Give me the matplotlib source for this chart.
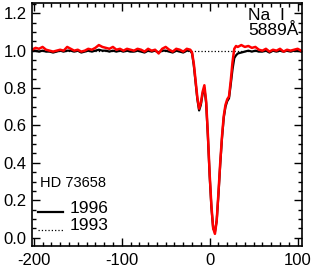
import numpy as np
import matplotlib
matplotlib.use('Agg')
import matplotlib.pyplot as plt
from matplotlib.ticker import MultipleLocator

plt.rcParams['font.family'] = ['Liberation Sans', 'DejaVu Sans']
plt.rcParams['axes.unicode_minus'] = False

# velocity grid (km/s)
v_cont1 = [-202, -198, -194, -190, -186, -182, -178, -174, -170, -166,
           -162, -158, -154, -150, -146, -142, -138, -134, -130, -126,
           -122, -118, -114, -110, -106, -102, -98, -94, -90, -86,
           -82, -78, -74, -70, -66, -62, -58, -54, -50, -46,
           -42, -38, -34, -30, -26, -22]
v_line = [-20, -18, -16, -14, -12, -10, -8, -6, -4, -2, 0, 2, 4, 6, 8,
          10, 12, 14, 16, 18, 20, 22, 24, 26, 28, 30, 32]
v_cont2 = [36, 40, 44, 48, 52, 56, 60, 64, 68, 72, 76, 80, 84, 88, 92,
           96, 100, 104]

# red spectrum
red_cont1 = [1.005, 1.015, 1.01, 1.02, 1.005, 1.0, 0.995, 1.0, 1.005, 1.0,
             1.02, 1.01, 1.0, 1.005, 0.995, 1.0, 1.01, 1.005, 1.015, 1.03,
             1.02, 1.015, 1.01, 1.02, 1.005, 1.01, 1.0, 1.01, 1.005, 1.0,
             1.01, 1.005, 0.995, 1.01, 1.0, 1.005, 0.985, 1.01, 1.02, 1.005,
             0.995, 1.01, 1.005, 0.995, 1.01, 1.005]
red_line = [0.99, 0.93, 0.84, 0.75, 0.69, 0.72, 0.78, 0.815, 0.73, 0.55,
            0.34, 0.17, 0.05, 0.02, 0.09, 0.24, 0.40, 0.54, 0.65, 0.71,
            0.74, 0.755, 0.84, 0.94, 1.01, 1.025, 1.02]
red_cont2 = [1.03, 1.02, 1.025, 1.015, 1.02, 1.005, 1.0, 1.01, 0.995, 1.005,
             1.0, 1.01, 0.995, 1.005, 1.0, 1.005, 1.01, 1.0]

# 1996 spectrum (black)
blk_cont1 = [1.0, 1.0, 0.995, 1.0, 0.995, 0.995, 0.99, 0.995, 1.0, 0.995,
             1.0, 1.0, 0.995, 1.0, 0.99, 0.995, 1.0, 0.995, 1.0, 1.005,
             1.0, 1.0, 0.995, 1.0, 0.995, 1.0, 0.995, 1.0, 0.995, 0.995,
             1.0, 0.995, 0.99, 1.0, 0.995, 1.0, 0.99, 1.0, 1.0, 0.995,
             0.99, 1.0, 0.995, 0.99, 1.0, 1.0]
blk_line = [0.985, 0.92, 0.83, 0.74, 0.68, 0.71, 0.77, 0.80, 0.72, 0.54,
            0.33, 0.16, 0.05, 0.03, 0.09, 0.23, 0.39, 0.53, 0.64, 0.70,
            0.73, 0.745, 0.82, 0.90, 0.96, 0.975, 0.985]
blk_cont2 = [0.99, 0.995, 1.0, 0.995, 1.0, 0.995, 0.995, 1.0, 0.99, 1.0,
             0.995, 1.0, 0.995, 1.0, 0.995, 1.0, 1.0, 0.995]

vel = np.array(v_cont1 + v_line + v_cont2)
flux_red = np.array(red_cont1 + red_line + red_cont2)
flux_1996 = np.array(blk_cont1 + blk_line + blk_cont2)

fig = plt.figure(figsize=(3.11, 2.73), dpi=100)
ax = fig.add_axes([32 / 311, 27 / 273, 270 / 311, 243 / 273])

ax.axhline(1.0, color='black', linestyle=':', linewidth=0.9)
ax.plot(vel, flux_1996, color='black', linewidth=1.6)
ax.plot(vel, flux_red, color='red', linewidth=1.8)

ax.set_xlim(-202, 105)
ax.set_ylim(-0.045, 1.255)
ax.set_xticks([-200, -100, 0, 100])
ax.set_yticks([0.0, 0.2, 0.4, 0.6, 0.8, 1.0, 1.2])
ax.xaxis.set_minor_locator(MultipleLocator(10))
ax.yaxis.set_minor_locator(MultipleLocator(0.05))
ax.tick_params(which='both', direction='in', top=True, right=True,
               width=1.0, labelsize=12)
ax.tick_params(which='major', length=6)
ax.tick_params(which='minor', length=3)
ax.tick_params(axis='x', pad=5)
ax.tick_params(axis='y', pad=4)
for s in ax.spines.values():
    s.set_linewidth(1.2)

ax.text(0.80, 0.978, 'Na  I', transform=ax.transAxes, fontsize=12.5,
        va='top', ha='left')
ax.text(0.80, 0.918, '5889Å', transform=ax.transAxes, fontsize=12.5,
        va='top', ha='left')
ax.text(0.03, 0.259, 'HD 73658', transform=ax.transAxes, fontsize=10.5,
        va='center', ha='left')

ax.plot([0.022, 0.115], [0.140, 0.140], color='black', linewidth=1.6,
        transform=ax.transAxes)
ax.text(0.141, 0.136, '1996', transform=ax.transAxes, fontsize=12.5,
        va='baseline', ha='left')
ax.plot([0.022, 0.115], [0.066, 0.066], color='black', linestyle=':',
        linewidth=0.9, transform=ax.transAxes)
ax.text(0.141, 0.066, '1993', transform=ax.transAxes, fontsize=12.5,
        va='baseline', ha='left')

fig.savefig('out.png', dpi=100)
